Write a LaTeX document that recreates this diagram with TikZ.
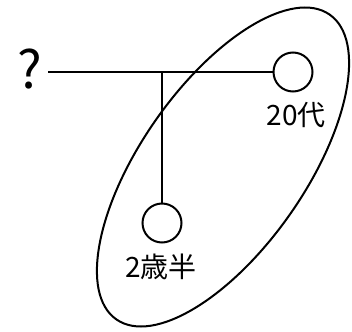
\documentclass[tikz,border=0pt]{standalone}
\usepackage{fontspec}
\newfontfamily\jpfont{Noto Sans CJK JP}
\usetikzlibrary{positioning, calc}

\begin{document}
\begin{tikzpicture}[
    x=1pt, y=-1pt,
    person/.style={circle, draw=black, line width=2pt, minimum size=39pt, inner sep=0pt},
    age/.style={font=\jpfont\fontsize{28}{28}\selectfont, inner sep=0pt},
    every path/.style={line width=2pt}
  ]
  \useasboundingbox (0,0) rectangle (352,331);

  % People: unknown on the left, 20s top-right, toddler below
  \node[font=\jpfont\fontsize{52}{52}\selectfont, inner sep=0pt] (q) at (30,69) {?};
  \node[person] (n20) at (293,72) {};
  \node[person] (n2) at (162,223) {};
  \coordinate (j) at (162,72);
  \coordinate (qe) at (48,72);

  % Age labels
  \node[age] (l20) at (296,115) {20代};
  \node[age] (l2) at (161,267) {2歳半};

  % Lines of relation
  \draw (qe) -- (n20.west);
  \draw (j) -- (n2.north);

  % Group ellipse
  \draw[rotate around={55:(223,167)}] (223,167) ellipse [x radius=186, y radius=82];
\end{tikzpicture}
\end{document}
